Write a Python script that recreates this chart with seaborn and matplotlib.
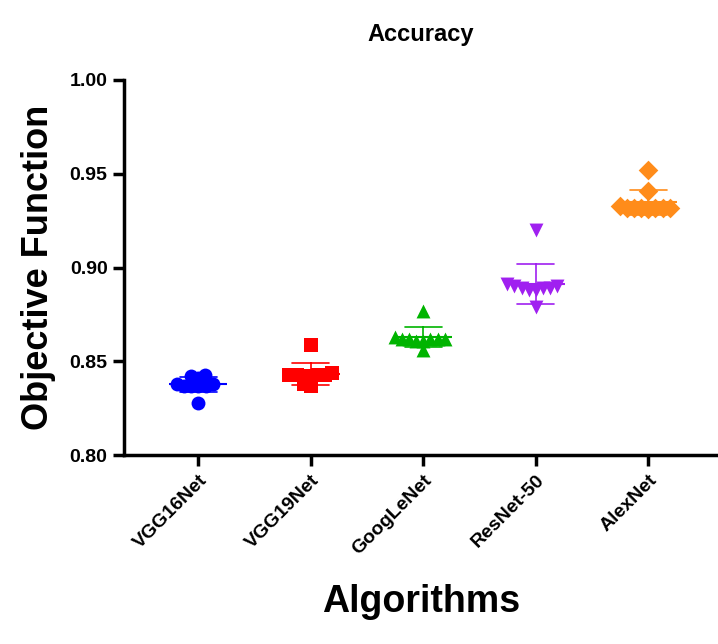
import pandas as pd
import matplotlib.pyplot as plt
import seaborn as sns

# Values.
algorithms = ['VGG16Net', 'VGG19Net', 'GoogLeNet', 'ResNet-50', 'AlexNet']
vgg16 = [0.837, 0.837, 0.837, 0.838, 0.842, 0.843, 0.841, 0.838, 0.837, 0.828]
vgg19 = [0.859, 0.843, 0.843, 0.842, 0.843, 0.844, 0.842, 0.843, 0.837, 0.838]
googlenet = [0.877, 0.862, 0.862, 0.861, 0.862, 0.863, 0.862, 0.861, 0.862, 0.856]
resnet50 = [0.920, 0.891, 0.889, 0.890, 0.888, 0.889, 0.890, 0.889, 0.888, 0.879]
alexnet = [0.952, 0.941, 0.932, 0.932, 0.933, 0.932, 0.931, 0.932, 0.932, 0.932]
colors = ['#0000ff', '#ff0000', '#00b400', '#a020f0', '#ff8c1a']
markers = ['o', 's', '^', 'v', 'D']

df = pd.DataFrame({
    'Algorithm': [a for a, v in zip(algorithms, [vgg16, vgg19, googlenet, resnet50, alexnet]) for _ in v],
    'Value': vgg16 + vgg19 + googlenet + resnet50 + alexnet,
})

sns.set_style('ticks')
plt.rcParams['font.family'] = ['Liberation Sans', 'DejaVu Sans']
plt.rcParams['font.weight'] = 'bold'
plt.rcParams['text.color'] = 'black'
plt.rcParams['axes.labelcolor'] = 'black'

fig = plt.figure(figsize=(7.18, 6.44), dpi=100)
ax = fig.add_axes([0.173, 0.293, 0.827, 0.583])
ax.set_ylim(0.80, 1.00)
ax.set_xlim(-0.66, 4.62)

# swarm with small markers for a packed layout
for alg, c, m in zip(algorithms, colors, markers):
    sns.swarmplot(data=df[df['Algorithm'] == alg], x='Algorithm', y='Value', order=algorithms,
                  color=c, marker=m, size=5.0, linewidth=0, ax=ax, zorder=3)
ax.set_xlim(-0.66, 4.62)
fig.canvas.draw()
# freeze swarm positions, then enlarge the markers so they overlap like the original
for coll in ax.collections:
    if 'draw' in coll.__dict__:
        del coll.__dict__['draw']
    coll.set_sizes([100])

for alg, c in zip(algorithms, colors):
    sub = df[df['Algorithm'] == alg]
    sns.pointplot(data=sub, x='Algorithm', y='Value', order=algorithms, color=c,
                  errorbar='sd', capsize=0.33, err_kws={'linewidth': 1.2},
                  markers='_', markersize=42, markeredgewidth=1.5,
                  linestyle='none', ax=ax, zorder=4)

ax.set_ylim(0.80, 1.00)
ax.set_xlim(-0.66, 4.62)
ax.set_yticks([0.80, 0.85, 0.90, 0.95, 1.00])
ax.set_yticklabels(['0.80', '0.85', '0.90', '0.95', '1.00'])
ax.set_xticks(range(len(algorithms)))
ax.set_xticklabels(algorithms, rotation=45, ha='right', rotation_mode='anchor')
ax.tick_params(axis='both', width=2.5, length=8, labelsize=14, colors='black', pad=4)
for s in ['left', 'bottom']:
    ax.spines[s].set_linewidth(2.5)
    ax.spines[s].set_color('black')
sns.despine(ax=ax)

ax.set_title('Accuracy', fontsize=17, fontweight='bold', pad=28)
ax.set_ylabel('Objective Function', fontsize=26, fontweight='bold', labelpad=10)
ax.set_xlabel('Algorithms', fontsize=27, fontweight='bold', labelpad=19)

plt.savefig('out.png', dpi=100)
